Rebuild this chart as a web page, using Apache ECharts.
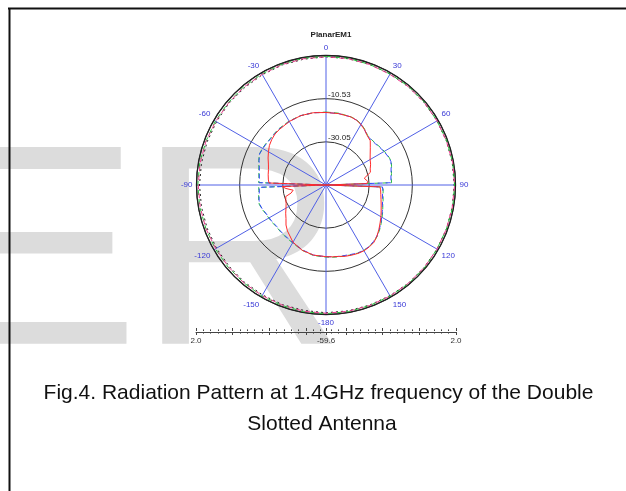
<!DOCTYPE html>
<html>
<head>
<meta charset="utf-8">
<script src="https://cdn.jsdelivr.net/npm/echarts@6/dist/echarts.min.js"></script>
<style>
html,body{margin:0;padding:0;background:#fff;}
#c{width:626px;height:491px;}
</style>
</head>
<body>
<div id="c"></div>
<script>
// ---- data (angles in degrees clockwise from top, radius in ring units: rings at 1, 2, 3) ----
const RING_LABELS = ['', '-30.05', '-10.53', ''];
const RULER_LABELS = ['2.0', '-59.6', '2.0'];
const RULER_HALF = 3.545;          // half ruler length in major-tick units

const ANG = [0,10,20,25,30,35,40,45,50,55,60,65,70,74,80,85,88,90,92,95,100,105,110,115,120,125,130,135,140,145,150,155,160,165,170,175,180,190,200,210,220,225,230,235,240,245,250,254,257,261,265,268,270,272,275,280,285,290,295,300,305,310,315,320,330,340,350,360];

const RED_R = [1.68,1.68,1.68,1.66,1.62,1.56,1.49,1.45,1.34,1.25,1.18,1.14,1.09,1.07,0.90,0.97,0.95,0,1.25,1.27,1.29,1.32,1.36,1.41,1.47,1.53,1.60,1.67,1.73,1.75,1.76,1.75,1.73,1.71,1.68,1.67,1.66,1.65,1.61,1.53,1.39,1.31,1.21,1.14,1.07,1.02,0.99,0.97,0.83,0.77,0.93,1.02,0,1.32,1.34,1.36,1.38,1.42,1.48,1.54,1.60,1.64,1.67,1.68,1.70,1.71,1.70,1.68];

const BLUE_R = [1.68,1.68,1.68,1.66,1.62,1.56,1.49,1.48,1.49,1.52,1.55,1.58,1.60,1.57,1.53,1.51,1.51,0,1.31,1.32,1.33,1.36,1.39,1.44,1.49,1.55,1.61,1.67,1.71,1.74,1.75,1.74,1.71,1.69,1.68,1.67,1.66,1.65,1.60,1.54,1.51,1.50,1.49,1.51,1.52,1.54,1.58,1.60,1.59,1.57,1.55,1.55,0,1.55,1.55,1.57,1.60,1.65,1.70,1.69,1.68,1.67,1.68,1.69,1.70,1.71,1.70,1.68];

const GREEN_R = [1.69,1.69,1.68,1.67,1.63,1.57,1.50,1.49,1.50,1.53,1.56,1.59,1.61,1.58,1.54,1.52,1.52,0,1.32,1.33,1.34,1.37,1.40,1.45,1.50,1.56,1.62,1.68,1.72,1.74,1.75,1.74,1.72,1.70,1.69,1.68,1.67,1.66,1.61,1.55,1.52,1.51,1.50,1.52,1.53,1.55,1.59,1.61,1.60,1.58,1.56,1.56,0,1.56,1.56,1.58,1.61,1.66,1.70,1.70,1.69,1.68,1.69,1.70,1.71,1.71,1.70,1.69];

const OUTER_ANG = [0,10,20,30,40,50,60,70,80,90,100,110,120,130,140,150,160,170,180,190,200,210,220,230,240,250,260,270,280,290,300,310,320,330,340,350,360];
const OUTER_GREEN = [2.98,2.98,2.97,2.97,2.98,2.98,2.97,2.98,2.98,2.98,2.98,2.97,2.97,2.98,2.98,2.97,2.97,2.98,2.98,2.98,2.97,2.97,2.96,2.96,2.96,2.96,2.97,2.97,2.97,2.96,2.96,2.96,2.97,2.97,2.98,2.98,2.98];
const OUTER_MAGENTA = [2.97,2.97,2.97,2.96,2.97,2.97,2.97,2.97,2.98,2.98,2.97,2.97,2.97,2.97,2.97,2.97,2.97,2.97,2.97,2.97,2.96,2.96,2.96,2.95,2.95,2.96,2.96,2.96,2.96,2.96,2.95,2.95,2.96,2.96,2.97,2.97,2.97];
const OUTER_BLACK = [2.97,2.97,2.97,2.97,2.97,2.97,2.97,2.97,2.97,2.97,2.97,2.97,2.97,2.97,2.97,2.96,2.96,2.96,2.96,2.95,2.95,2.94,2.94,2.93,2.93,2.93,2.93,2.93,2.93,2.93,2.93,2.94,2.94,2.95,2.96,2.96,2.97];

const ANGLE_LABEL = v => (v === 360 ? '' : (v > 180 ? String(v - 360) : (v === 180 ? '-180' : String(v))));

function pairs(rs, angs) { return rs.map((r, i) => [r, angs[i]]); }

const FONT = '"Liberation Sans", Arial, sans-serif';

const chart = echarts.init(document.getElementById('c'), null, {renderer: 'canvas'});

function polarLine(name, rs, angs, color, type, offset, z) {
  return {
    name, type: 'line', coordinateSystem: 'polar', data: pairs(rs, angs),
    symbol: 'none', silent: true, z: z,
    lineStyle: {color, width: 1, type, dashOffset: offset || 0}
  };
}

function rulerAxis(grid, pos, inverse, labels) {
  return {
    type: 'value', gridIndex: grid, position: pos, inverse,
    min: 0, max: RULER_HALF, interval: 1,
    axisLine: {show: pos === 'bottom', lineStyle: {color: '#444', width: 1}},
    axisTick: {show: true, length: 3, lineStyle: {color: '#444'}},
    minorTick: {show: true, splitNumber: 5, length: 1.6, lineStyle: {color: '#444'}},
    splitLine: {show: false},
    axisLabel: {
      show: !!labels, fontSize: 8, color: '#333', margin: 5, fontFamily: FONT,
      formatter: v => {
        if (!labels) return '';
        if (Math.abs(v) < 1e-6) return labels[0];
        if (Math.abs(v - RULER_HALF) < 1e-6) return labels[1];
        return '';
      }
    }
  };
}

chart.setOption({
  animation: false,
  backgroundColor: '#ffffff',
  title: {
    text: 'PlanarEM1', left: 326, top: 26, textAlign: 'center',
    textStyle: {fontSize: 8, fontWeight: 'bold', color: '#222', fontFamily: FONT}
  },
  polar: {center: [326, 185], radius: 129.5},
  angleAxis: {
    type: 'value', min: 0, max: 360, interval: 30, startAngle: 90, clockwise: true,
    axisLine: {show: true, lineStyle: {color: '#222', width: 1.3}},
    axisTick: {show: false},
    axisLabel: {color: '#3838d6', fontSize: 8, margin: 4, fontFamily: FONT, formatter: ANGLE_LABEL},
    splitLine: {show: true, lineStyle: {color: '#5060e6', width: 1}}
  },
  radiusAxis: {
    type: 'value', min: 0, max: 3, interval: 1,
    axisLine: {show: false}, axisTick: {show: false},
    splitLine: {show: true, lineStyle: {color: '#333', width: 1}},
    axisLabel: {
      margin: -2, align: 'left', verticalAlign: 'bottom', fontSize: 8, color: '#222', fontFamily: FONT,
      formatter: v => RING_LABELS[Math.round(v)] || ''
    }
  },
  grid: [
    {left: 196, width: 130, top: 331, height: 1, containLabel: false},
    {left: 326, width: 130, top: 331, height: 1, containLabel: false}
  ],
  xAxis: [
    rulerAxis(0, 'bottom', false, [RULER_LABELS[0], RULER_LABELS[1]]),
    rulerAxis(0, 'top', false, null),
    rulerAxis(1, 'bottom', true, [RULER_LABELS[2], '']),
    rulerAxis(1, 'top', true, null)
  ],
  yAxis: [
    {type: 'value', gridIndex: 0, show: false},
    {type: 'value', gridIndex: 1, show: false}
  ],
  series: [
    polarLine('outer black', OUTER_BLACK, OUTER_ANG, '#222', [2, 3], 0, 3),
    polarLine('outer green', OUTER_GREEN, OUTER_ANG, '#22c03a', [5, 4], 0, 3),
    polarLine('outer magenta', OUTER_MAGENTA, OUTER_ANG, '#ee3a8c', [5, 4], 4.5, 3),
    polarLine('green', GREEN_R, ANG, '#2fbf45', [5, 3], 0, 4),
    polarLine('blue', BLUE_R, ANG, '#3446ff', [5, 3], 4, 4),
    polarLine('red', RED_R, ANG, '#ff2a2a', 'solid', 0, 5)
  ],
  graphic: [
    {type: 'text', z: -10, x: -52, y: 265, silent: true,
     style: {text: 'ER', font: '286px ' + FONT, fill: '#dcdcdc', align: 'left', verticalAlign: 'middle', textAlign: 'left', textVerticalAlign: 'middle'}},
    {type: 'line', z: 10, silent: true, shape: {x1: 8, y1: 8.5, x2: 626, y2: 8.5}, style: {stroke: '#111', lineWidth: 2}},
    {type: 'line', z: 10, silent: true, shape: {x1: 9.5, y1: 8, x2: 9.5, y2: 491}, style: {stroke: '#111', lineWidth: 2}},
    {type: 'text', z: 10, x: 318.5, y: 393.5, silent: true,
     style: {text: 'Fig.4. Radiation Pattern at 1.4GHz frequency of the Double', font: '21px ' + FONT, fill: '#111', align: 'center', verticalAlign: 'middle', textAlign: 'center', textVerticalAlign: 'middle'}},
    {type: 'text', z: 10, x: 322, y: 424.5, silent: true,
     style: {text: 'Slotted Antenna', font: '21px ' + FONT, fill: '#111', align: 'center', verticalAlign: 'middle', textAlign: 'center', textVerticalAlign: 'middle'}}
  ]
});
</script>
</body>
</html>
